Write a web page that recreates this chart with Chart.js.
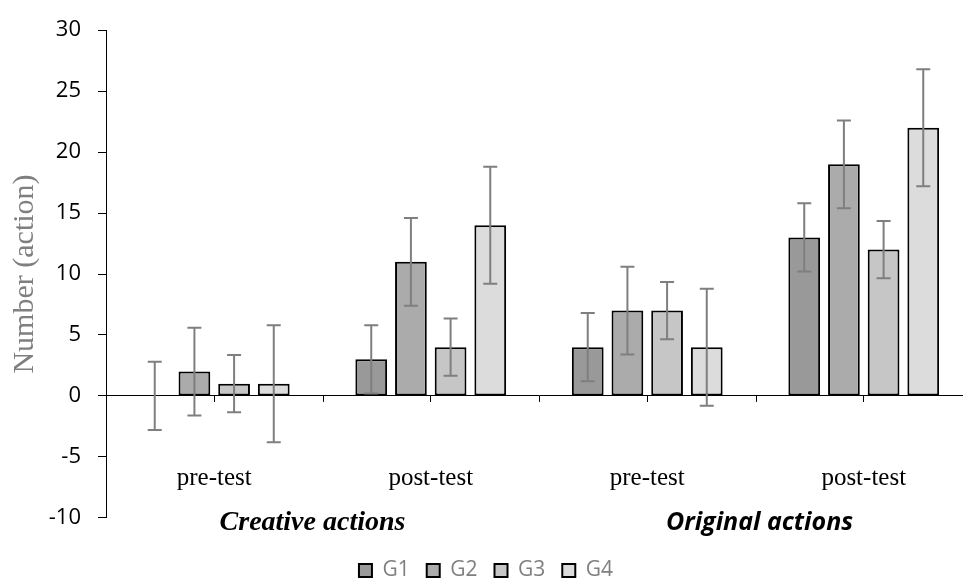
<!DOCTYPE html>
<html>
<head>
<meta charset="utf-8">
<title>Number of actions</title>
<script src="https://cdn.jsdelivr.net/npm/chart.js@4.4.1/dist/chart.umd.min.js"></script>
<style>
  html, body { margin: 0; padding: 0; background: #fff; overflow: hidden; }
  #wrap { position: relative; width: 975px; height: 583px; }
</style>
</head>
<body>
<div id="wrap"><canvas id="chart"></canvas></div>
<script>
// categories (two levels, like the original multi-level axis)
const categories = ['pre-test', 'post-test', 'pre-test', 'post-test'];
const groups = ['Creative actions', 'Original actions'];
const seriesNames = ['G1', 'G2', 'G3', 'G4'];

// mean number of actions
const g1 = [0, 3, 4, 13];
const g2 = [2, 11, 7, 19];
const g3 = [1, 4, 7, 12];
const g4 = [1, 14, 4, 22];

// error bar half lengths
const g1Err = [2.8, 2.8, 2.8, 2.8];
const g2Err = [3.6, 3.6, 3.6, 3.6];
const g3Err = [2.35, 2.35, 2.35, 2.35];
const g4Err = [4.8, 4.8, 4.8, 4.8];

const yTicks = [-10, -5, 0, 5, 10, 15, 20, 25, 30];

const fills = ['#999999', '#ababab', '#c6c6c6', '#dcdcdc'];
const values = [g1, g2, g3, g4];
const errors = [g1Err, g2Err, g3Err, g4Err];

// draws the error bars, the extra ticks between categories and the group labels
const extrasPlugin = {
    id: 'extras',
    afterDatasetsDraw(chart) {
        const ctx = chart.ctx;
        const y = chart.scales.y;
        ctx.save();
        ctx.strokeStyle = '#7f7f7f';
        ctx.lineWidth = 2;
        chart.data.datasets.forEach((ds, di) => {
            const meta = chart.getDatasetMeta(di);
            meta.data.forEach((bar, i) => {
                const v = ds.data[i];
                const e = ds.errors[i];
                const top = y.getPixelForValue(v + e);
                const bot = y.getPixelForValue(v - e);
                ctx.beginPath();
                ctx.moveTo(bar.x, top);
                ctx.lineTo(bar.x, bot);
                ctx.moveTo(bar.x - 7, top);
                ctx.lineTo(bar.x + 7, top);
                ctx.moveTo(bar.x - 7, bot);
                ctx.lineTo(bar.x + 7, bot);
                ctx.stroke();
            });
        });
        ctx.restore();
    },
    afterDraw(chart) {
        const ctx = chart.ctx;
        const x = chart.scales.x;
        const y0 = chart.scales.y.getPixelForValue(0);
        ctx.save();
        ctx.strokeStyle = '#000';
        ctx.lineWidth = 1;
        for (let i = 0; i < categories.length - 1; i++) {
            const px = Math.round(x.getPixelForValue(i + 0.5)) + 0.5;
            ctx.beginPath();
            ctx.moveTo(px, y0);
            ctx.lineTo(px, y0 + 6);
            ctx.stroke();
        }
        ctx.fillStyle = '#000';
        ctx.textAlign = 'center';
        ctx.textBaseline = 'middle';
        const ly = chart.scales.y.getPixelForValue(-10) + 5;
        ctx.font = 'italic bold 28px "Liberation Serif"';
        ctx.fillText(groups[0], x.getPixelForValue(0.5) - 10, ly);
        ctx.font = 'italic bold 25px "Open Sans"';
        ctx.fillText(groups[1], x.getPixelForValue(2.5) + 4, ly);
        ctx.restore();
    }
};

new Chart(document.getElementById('chart'), {
    type: 'bar',
    data: {
        labels: categories,
        datasets: seriesNames.map((name, i) => ({
            label: name,
            data: values[i],
            errors: errors[i],
            backgroundColor: fills[i],
            borderColor: '#000',
            borderWidth: 2,
            borderSkipped: false,
            categoryPercentage: 0.733,
            barPercentage: 0.8
        }))
    },
    options: {
        responsive: true,
        maintainAspectRatio: false,
        animation: false,
        layout: { padding: { left: 0, right: 3, top: 25, bottom: -8 } },
        plugins: {
            tooltip: { enabled: false },
            legend: {
                position: 'bottom',
                title: { display: true, text: '', font: { size: 1 }, padding: { top: 12, bottom: 12 } },
                labels: {
                    boxWidth: 13,
                    boxHeight: 13,
                    padding: 17,
                    color: '#7f7f7f',
                    font: { family: 'Open Sans', size: 21 }
                }
            }
        },
        scales: {
            x: {
                position: { y: 0 },
                offset: true,
                afterFit(scale) { scale.height = 0; },
                grid: { drawOnChartArea: false, drawTicks: true, tickLength: 6, color: '#000', offset: false },
                border: { display: true, color: '#000', width: 1 },
                ticks: {
                    autoSkip: false,
                    maxRotation: 0,
                    padding: 62,
                    color: '#000',
                    font: { family: 'Liberation Serif', size: 25 }
                }
            },
            y: {
                min: -10,
                max: 30,
                afterFit(scale) { scale.width = 106; },
                afterBuildTicks(scale) { scale.ticks = yTicks.map(v => ({ value: v })); },
                grid: { drawOnChartArea: false, drawTicks: true, tickLength: 8, color: '#000' },
                border: { display: true, color: '#000', width: 1 },
                ticks: {
                    padding: 17,
                    color: '#000',
                    font: { family: 'Open Sans', size: 22 }
                },
                title: {
                    display: true,
                    text: 'Number (action)',
                    color: '#7f7f7f',
                    font: { family: 'Liberation Serif', size: 30 },
                    padding: { top: 7, bottom: 0 }
                }
            }
        }
    },
    plugins: [extrasPlugin]
});
</script>
</body>
</html>
